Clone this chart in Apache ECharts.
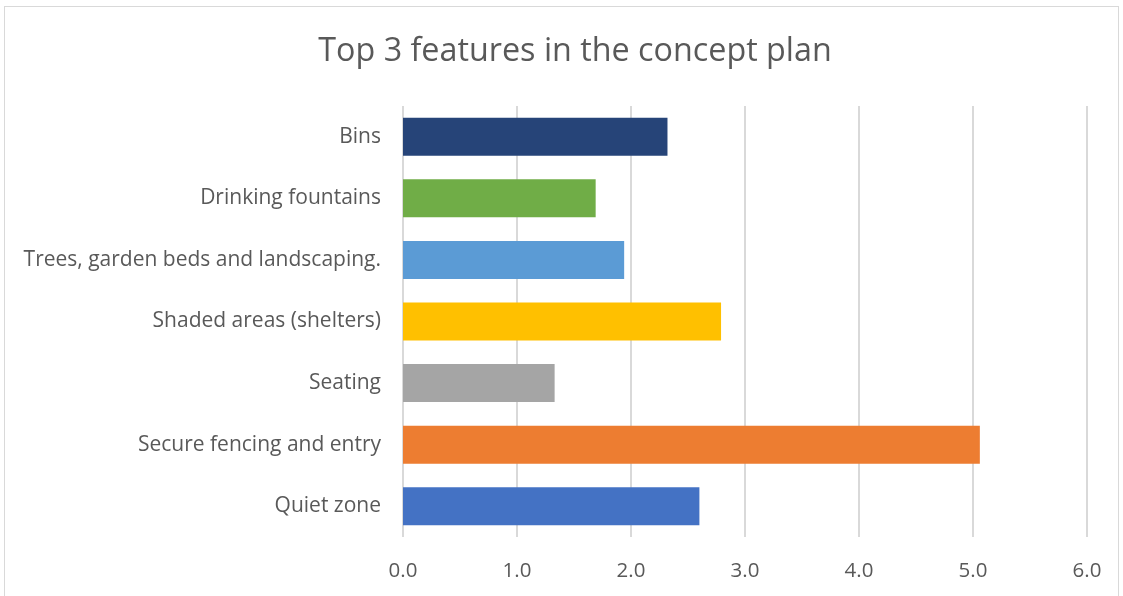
<!DOCTYPE html>
<html>
<head>
<meta charset="utf-8">
<script src="https://cdn.jsdelivr.net/npm/echarts@6/dist/echarts.min.js"></script>
<style>
html,body{margin:0;padding:0;background:#fff;}
#frame{position:absolute;left:4px;top:6px;width:1115px;height:600px;border:1px solid #d9d9d9;box-sizing:border-box;}
#c{position:absolute;left:0;top:0;width:1123px;height:596px;}
</style>
</head>
<body>
<div id="frame"></div>
<div id="c"></div>
<script>
const categories = ["Quiet zone", "Secure fencing and entry", "Seating", "Shaded areas (shelters)", "Trees, garden beds and landscaping.", "Drinking fountains", "Bins"];
const values = [2.60, 5.06, 1.33, 2.79, 1.94, 1.69, 2.32];
const barColors = ["#4472C4", "#ED7D31", "#A5A5A5", "#FFC000", "#5B9BD5", "#70AD47", "#264478"];
const xTicks = [0, 1, 2, 3, 4, 5, 6];

const chart = echarts.init(document.getElementById('c'), null, {renderer: 'canvas'});
chart.setOption({
  animation: false,
  title: {
    text: "Top 3 features in the concept plan",
    left: 570,
    textAlign: 'center',
    top: 31,
    textStyle: {fontFamily: 'Open Sans', fontSize: 32.3, fontWeight: 'normal', color: '#595959'}
  },
  grid: {left: 403, right: 36, top: 106, bottom: 59, containLabel: false},
  xAxis: {
    type: 'value',
    min: xTicks[0],
    max: xTicks[xTicks.length - 1],
    interval: 1,
    axisLine: {show: false},
    axisTick: {show: false},
    splitLine: {lineStyle: {color: '#d9d9d9', width: 2}},
    axisLabel: {
      formatter: v => v.toFixed(1),
      fontFamily: 'Open Sans', fontSize: 20.5, color: '#595959', margin: 24
    }
  },
  yAxis: {
    type: 'category',
    data: categories,
    axisLine: {show: false},
    axisTick: {show: false},
    axisLabel: {fontFamily: 'Open Sans', fontSize: 21, color: '#595959', margin: 22}
  },
  series: [{
    type: 'bar',
    barWidth: 38,
    data: values.map((v, i) => ({value: v, itemStyle: {color: barColors[i]}}))
  }]
});
</script>
</body>
</html>
